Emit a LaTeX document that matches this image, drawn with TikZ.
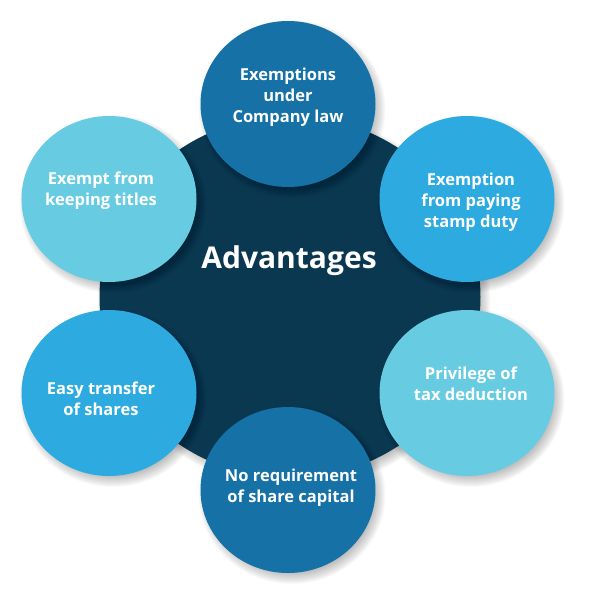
\documentclass[tikz,border=0pt]{standalone}
\usepackage{fontspec}
\setmainfont{Open Sans}
\usetikzlibrary{shapes.geometric}
\definecolor{cdark}{HTML}{0A3850}
\definecolor{cmid}{HTML}{1571A6}
\definecolor{cbright}{HTML}{2DABE1}
\definecolor{clight}{HTML}{67CBE2}
\newcommand{\softshadow}[4]{%
  \foreach \k in {1,...,12}{%
    \fill[black,opacity=0.022] (#1+4,#2+5) ellipse [x radius={(#3+\k-6)*1pt}, y radius={(#4+\k-6)*1pt}];}}
\tikzset{
  blob/.style={ellipse, inner sep=0pt, draw=none, minimum width=175pt, minimum height=166pt},
  lbl/.style={text=white, align=center, font=\fontsize{16.5}{21}\selectfont\bfseries},
}
\begin{document}
\begin{tikzpicture}[x=1pt,y=-1pt]
\useasboundingbox (0,0) rectangle (597,616);
% centre
\softshadow{290}{297}{190.5}{181}
\node[ellipse, inner sep=0pt, fill=cdark, minimum width=381pt, minimum height=362pt] (hub) at (290,297) {};
% satellites
\softshadow{288}{104}{87.5}{83}
\node[blob, fill=cmid] (top) at (288,104) {};
\softshadow{467}{199}{87.5}{83}
\node[blob, fill=cbright] (ur) at (467,199) {};
\softshadow{467}{393}{87.5}{83}
\node[blob, fill=clight] (lr) at (467,393) {};
\softshadow{288}{490}{87.5}{83}
\node[blob, fill=cmid] (bot) at (288,490) {};
\softshadow{109}{393}{87.5}{83}
\node[blob, fill=cbright] (ll) at (109,393) {};
\softshadow{109}{199}{87.5}{83}
\node[blob, fill=clight] (ul) at (109,199) {};
% labels
\node[lbl] (ttop) at (288,97) {Exemptions\\under\\Company law};
\node[lbl] (tur) at (471,202) {Exemption\\from paying\\stamp duty};
\node[lbl] (tlr) at (471,384) {Privilege of\\tax deduction};
\node[lbl] (tbot) at (291,488) {No requirement\\of share capital};
\node[lbl] (tll) at (101,399) {Easy transfer\\of shares};
\node[lbl] (tul) at (101,191) {Exempt from\\keeping titles};
\node[text=white, font=\fontsize{30}{35}\selectfont\bfseries, anchor=base, inner sep=0pt] (adv) at (289,268) {Advantages};
\end{tikzpicture}
\end{document}
